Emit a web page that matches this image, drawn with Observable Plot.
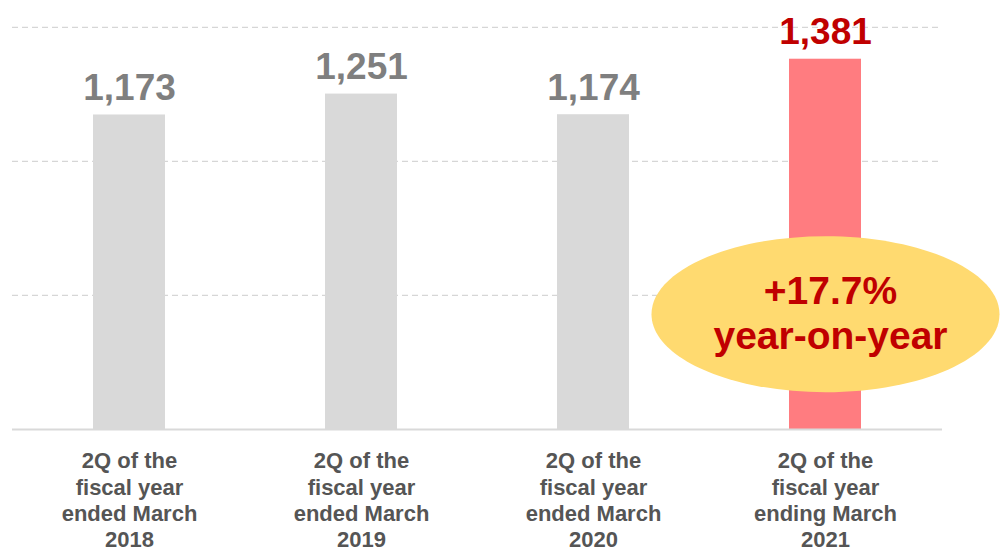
<!DOCTYPE html>
<html>
<head>
<meta charset="utf-8">
<script src="https://cdn.jsdelivr.net/npm/d3@7"></script>
<script src="https://cdn.jsdelivr.net/npm/@observablehq/plot@0.6"></script>
<style>
  html, body { margin: 0; padding: 0; background: #fff; }
  #chart svg { display: block; }
</style>
</head>
<body>
<div id="chart"></div>
<script>
// ---- data ----
const categories = [
  "2Q of the\nfiscal year\nended March\n2018",
  "2Q of the\nfiscal year\nended March\n2019",
  "2Q of the\nfiscal year\nended March\n2020",
  "2Q of the\nfiscal year\nending March\n2021"
];
const values = [1173, 1251, 1174, 1381];
const gridTicks = [500, 1000, 1500];
const highlightCategory = categories[3];
const calloutText = "+17.7%\nyear-on-year";
const calloutValue = 430;

const rows = categories.map((c, i) => ({category: c, value: values[i]}));
const callout = [{category: highlightCategory, value: calloutValue, text: calloutText}];

const GRAY_BAR = "#d9d9d9", RED_BAR = "#ff7c80", GRAY_TXT = "#7f7f7f", RED_TXT = "#c00000";

// ellipse symbol (bezier approximation)
const ellipseSymbol = {
  draw(ctx) {
    const rx = 174, ry = 78, k = 0.5522847498;
    ctx.moveTo(rx, 0);
    ctx.bezierCurveTo(rx, ry * k, rx * k, ry, 0, ry);
    ctx.bezierCurveTo(-rx * k, ry, -rx, ry * k, -rx, 0);
    ctx.bezierCurveTo(-rx, -ry * k, -rx * k, -ry, 0, -ry);
    ctx.bezierCurveTo(rx * k, -ry, rx, -ry * k, rx, 0);
    ctx.closePath();
  }
};

const chart = Plot.plot({
  width: 1002,
  height: 551,
  marginTop: 0,
  marginBottom: 122,
  marginLeft: 12,
  marginRight: 60,
  style: {fontFamily: "'Liberation Sans', Arial, sans-serif", background: "#fff"},
  x: {domain: categories, paddingInner: 0.69, paddingOuter: 0.345, label: null},
  y: {domain: [0, 1600], axis: null},
  marks: [
    Plot.ruleY(gridTicks, {stroke: "#d6d6d6", strokeWidth: 1.2, strokeDasharray: "6,4"}),
    Plot.barY(rows, {x: "category", y: "value", fill: d => d.category === highlightCategory ? RED_BAR : GRAY_BAR}),
    Plot.ruleY([0], {stroke: "#d9d9d9", strokeWidth: 2}),
    Plot.text(rows, {
      x: "category", y: "value",
      text: d => d3.format(",")(d.value),
      dy: -15, lineAnchor: "bottom",
      fontSize: 37, fontWeight: "bold",
      fill: d => d.category === highlightCategory ? RED_TXT : GRAY_TXT
    }),
    Plot.axisX({
      tickSize: 0, tickPadding: 20, lineAnchor: "top", lineHeight: 1.2,
      fontSize: 22, fontWeight: "bold", fill: "#555", label: null
    }),
    Plot.dot(callout, {x: "category", y: "value", symbol: ellipseSymbol, r: 10, fill: "#ffda70", stroke: "none"}),
    Plot.text(callout, {
      x: "category", y: "value", text: "text",
      dx: 5, dy: -2, lineAnchor: "middle", lineHeight: 1.16,
      fontSize: 39, fontWeight: "bold", fill: RED_TXT
    })
  ]
});
document.getElementById("chart").appendChild(chart);
</script>
</body>
</html>
